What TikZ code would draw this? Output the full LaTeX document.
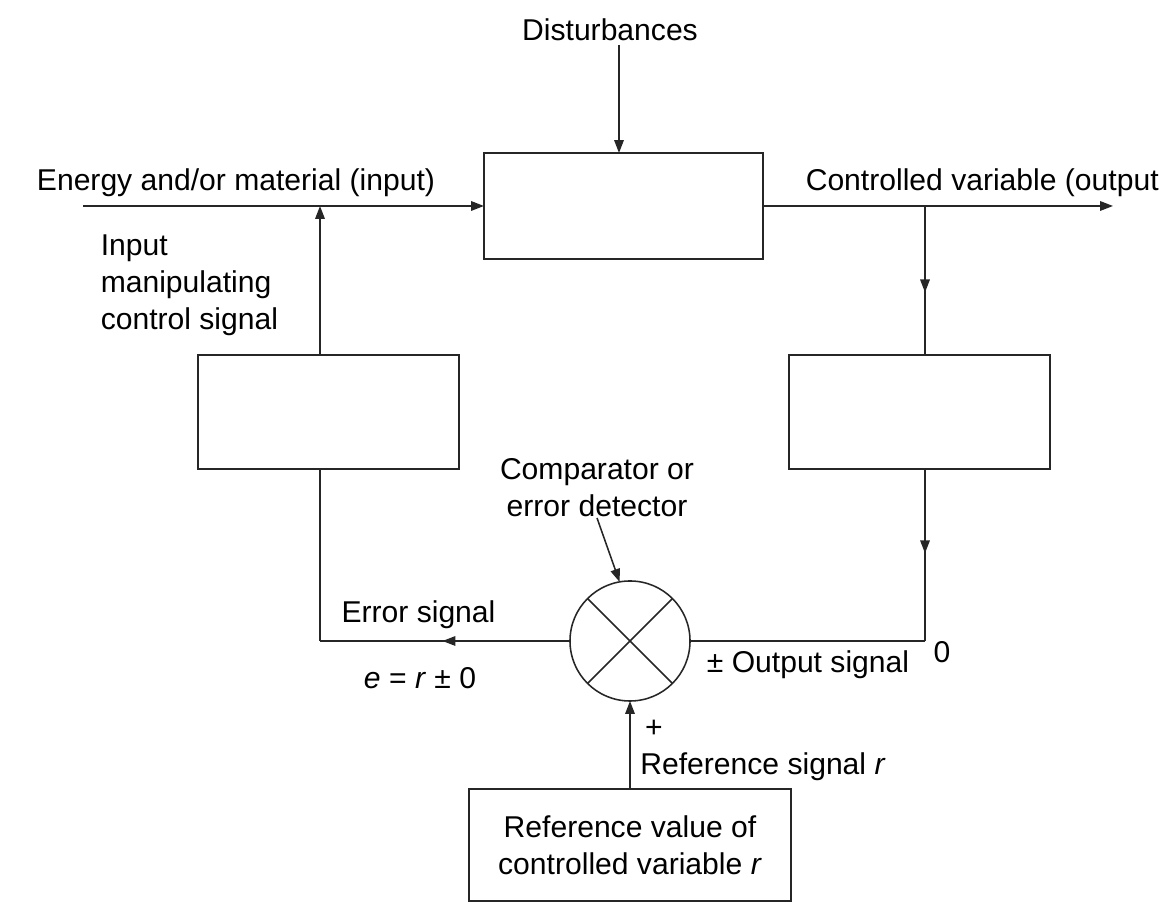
\documentclass[tikz,border=0pt]{standalone}
\usepackage{fontspec}
\setmainfont{Liberation Sans}
\usetikzlibrary{arrows.meta,decorations.markings}
\tikzset{
  blk/.style={draw,rectangle,inner sep=0pt,outer sep=0pt},
  arr/.style={-{Triangle[length=4.6pt,width=3.4pt]}},
  arrat/.style={postaction={decorate},decoration={markings,
      mark=at position #1 with {\arrow{Triangle[length=4.6pt,width=3.4pt]}}}},
  lbl/.style={inner sep=0pt,text=black,font=\fontsize{10.7}{13.2}\selectfont}
}
\begin{document}
\begin{tikzpicture}[x=0.0125cm,y=-0.0125cm,line width=0.55pt,color=black!85]
                 \useasboundingbox (0,0) rectangle (1160,906);
                 \node[blk,minimum width=3.4875cm,minimum height=1.325cm] (plant) at (623.5,206) {};
                 \node[blk,minimum width=3.2625cm,minimum height=1.425cm] (ctl) at (328.5,412) {};
                 \node[blk,minimum width=3.2625cm,minimum height=1.425cm] (fb) at (919.5,412) {};
                 \node[draw,circle,inner sep=0pt,outer sep=0pt,minimum size=1.5cm] (cmp) at (630,641) {};
                 \node[blk,lbl,align=center,minimum width=4.025cm,minimum height=1.4cm] (refv) at (630,845)
                      {Reference value of\\controlled variable \textit{r}};
                 \draw (cmp.45) -- (cmp.225) (cmp.135) -- (cmp.315);
                 \node[lbl] (dist) at (610,30) {Disturbances};
                 \node[lbl] (inlbl) at (236,183) {Energy and/or material (input)};
                 \node[lbl,anchor=west] (outlbl) at (805,183) {Controlled variable (output};
                 \node[lbl,anchor=west,align=left] (mlbl) at (100,285) {Input\\manipulating\\control signal};
                 \node[lbl,align=center] (cmplbl) at (597,488) {Comparator or\\error detector};
                 \node[lbl] (elbl) at (418.5,615) {Error signal};
                 \node[lbl] (eqlbl) at (420,678) {\textit{e} = \textit{r} ± 0};
                 \node[lbl] (olbl) at (808,665) {± Output signal};
                 \node[lbl] (zlbl) at (942,652) {0};
                 \node[lbl] (plbl) at (654,729) {+};
                 \node[lbl] (rlbl) at (763,767) {Reference signal \textit{r}};
                 \coordinate (dtop) at (619,45);
                 \coordinate (inL) at (83,206);
                 \coordinate (outR) at (1113,206);
                 \coordinate (br) at (925,206);
                 \coordinate (jn) at (320,206);
                 \draw[arr] (dtop) -- (dtop |- plant.north);
                 \draw[arr] (inL) -- (plant.west);
                 \draw[arr] (plant.east) -- (outR);
                 \draw[arrat=0.58] (br) -- (br |- fb.north);
                 \draw[arrat=0.49] (br |- fb.south) -- (br |- cmp.east);
                 \draw (br |- cmp.east) -- (cmp.east);
                 \draw[arrat=0.51] (cmp.west) -- (jn |- cmp.west);
                 \draw (jn |- cmp.west) -- (jn |- ctl.south);
                 \draw[arr] (jn |- ctl.north) -- (jn);
                 \draw[arr] (refv.north) -- (cmp.south);
                 \draw[arr] (cmplbl.south) -- (cmp.100);
\end{tikzpicture}
\end{document}
